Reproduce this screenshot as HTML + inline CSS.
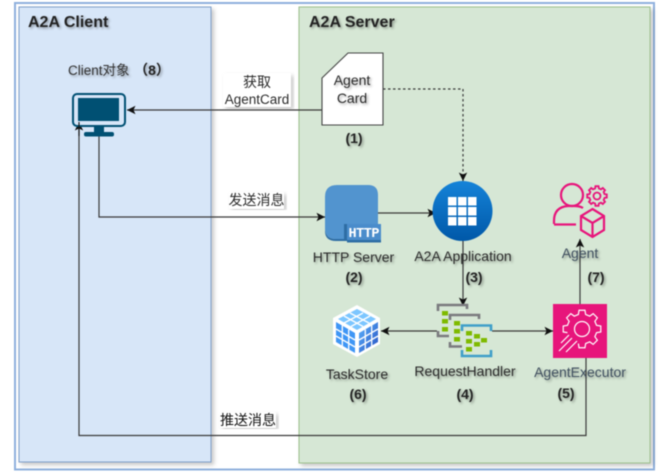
<!DOCTYPE html>
<html><head><meta charset="utf-8">
<style>
html,body{margin:0;padding:0;background:#fff;width:664px;height:473px;overflow:hidden}
svg{display:block;filter:blur(.4px)}
text{font-family:"Liberation Sans","Noto Sans CJK SC",sans-serif;fill:#222}
.t{font-size:14px;text-anchor:middle;fill:#2b2b2b}
.b{font-size:14px;font-weight:bold;text-anchor:middle;fill:#222}
.s{filter:url(#ts)}
.l{fill:none;stroke:#3a3a3a;stroke-width:1.2}
</style></head><body>
<svg width="664" height="473" viewBox="0 0 664 473" xmlns="http://www.w3.org/2000/svg">
<defs>
<filter id="ts" x="-20%" y="-30%" width="150%" height="170%"><feDropShadow dx="1.5" dy="1.5" stdDeviation="1.3" flood-color="#000" flood-opacity=".35"/></filter>
<filter id="bs" x="-5%" y="-5%" width="110%" height="110%"><feDropShadow dx="2.5" dy="2.5" stdDeviation="2" flood-color="#000" flood-opacity=".22"/></filter>
<linearGradient id="cg" x1="0" y1="0" x2="0" y2="1"><stop offset="0" stop-color="#1583d8"/><stop offset="1" stop-color="#0058a8"/></linearGradient>
<linearGradient id="cube" x1="0" y1="0" x2="1" y2="1"><stop offset="0" stop-color="#5db5ff"/><stop offset="1" stop-color="#2650c0"/></linearGradient>
<marker id="a" markerWidth="10" markerHeight="10" refX="8.500" refY="5" orient="auto" markerUnits="userSpaceOnUse"><path d="M0 .8L8.500 5 0 9.200 2 5z" fill="#111"/></marker>
</defs>

<rect x="15" y="3" width="639" height="466.5" fill="#fff" stroke="#8fb0dc" stroke-width="2"/>
<rect x="19" y="7" width="192" height="455" fill="#d7e6f8" stroke="#7f9fc9" filter="url(#bs)"/>
<rect x="299" y="7" width="351" height="456" fill="#d6e7d5" stroke="#9cc08c" filter="url(#bs)"/>

<text x="28" y="27" font-size="16" font-weight="bold" class="s">A2A Client</text>
<text x="309" y="27" font-size="16" font-weight="bold" class="s">A2A Server</text>
<text x="68" y="75" font-size="13.500" class="s" style="fill:#333">Client对象</text>
<text x="152" y="75" class="b s">（8）</text>

<!-- connectors -->
<path class="l" d="M322 110H127" marker-end="url(#a)"/>
<path class="l" d="M99 136V217H325" marker-end="url(#a)"/>
<path class="l" d="M586 358V435.5H79V122" marker-end="url(#a)"/>
<path class="l" d="M383 89H463V181" stroke-dasharray="2.5 2.5" marker-end="url(#a)"/>
<path class="l" d="M378 213H436" marker-end="url(#a)"/>
<path class="l" d="M463 241V306" marker-end="url(#a)"/>
<path class="l" d="M437 331H381" marker-end="url(#a)"/>
<path class="l" d="M492 331H553" marker-end="url(#a)"/>
<path class="l" d="M580 304V239" marker-end="url(#a)"/>

<!-- edge labels -->
<rect x="223" y="73" width="68" height="34" fill="#fff" filter="url(#bs)"/>
<text x="257" y="87" class="t">获取</text>
<text x="257" y="104" class="t" font-size="13.500" style="font-size:13.500px">AgentCard</text>
<rect x="229" y="192" width="55" height="17" fill="#fff" filter="url(#bs)"/>
<text x="256.500" y="205" class="t">发送消息</text>
<rect x="220" y="412" width="56" height="16" fill="#fff" filter="url(#bs)"/>
<text x="248" y="425" class="t" style="fill:#111">推送消息</text>

<!-- monitor -->
<rect x="73" y="94" width="52" height="32" rx="4" fill="#d7e6f8" stroke="#005073" stroke-width="2"/>
<rect x="78" y="98" width="41" height="23" fill="#005073"/>
<rect x="94" y="127" width="10" height="6" fill="#005073"/>
<rect x="84" y="132" width="30" height="4.500" rx="2" fill="#005073"/>
<path d="M79 122V136" stroke="#111" stroke-width="1.100"/>

<!-- agent card -->
<path d="M322 78L348 53H383V125H322Z" fill="#fff" stroke="#444" stroke-width="1.100"/>
<text x="352" y="85" class="t s">Agent</text>
<text x="352" y="103" class="t s">Card</text>
<text x="354" y="143" class="b s">(1)</text>

<!-- HTTP -->
<path d="M337 185H368Q378 185 378 195V224H345V239H336Q325 239 325 228V197Q325 185 337 185Z" fill="#5294cf"/>
<path d="M325 228Q325 239 336 239H345V241H336Q325 241 325 231Z" fill="#2e6da4"/>
<rect x="347" y="224" width="34" height="18" fill="#4a8ccb"/>
<rect x="344" y="224" width="3" height="17" fill="#2e6da4"/>
<rect x="347" y="240" width="34" height="2.500" fill="#2e6da4"/>
<text x="364" y="237" font-size="13.500" text-anchor="middle" font-weight="bold" style="fill:#fff;font-family:'Liberation Mono',monospace" textLength="31">HTTP</text>
<text x="353.500" y="262" class="t s">HTTP Server</text>
<text x="354" y="282" class="b s">(2)</text>

<!-- A2A app -->
<circle cx="462.500" cy="211" r="30" fill="url(#cg)"/>
<g fill="#fff">
<rect x="448" y="197" width="8.500" height="8.500"/><rect x="458" y="197" width="8.500" height="8.500"/><rect x="468" y="197" width="8.500" height="8.500"/>
<rect x="448" y="207" width="8.500" height="8.500"/><rect x="458" y="207" width="8.500" height="8.500"/><rect x="468" y="207" width="8.500" height="8.500"/>
<rect x="448" y="217" width="8.500" height="8.500"/><rect x="458" y="217" width="8.500" height="8.500"/><rect x="468" y="217" width="8.500" height="8.500"/>
</g>
<text x="463" y="261" class="t s">A2A Application</text>
<text x="474" y="282" class="b s">(3)</text>

<!-- Agent icon -->
<g fill="none" stroke="#e7157b" stroke-width="2.200">
<circle cx="572" cy="195" r="11"/>
<path d="M554 224V221Q554 207 568 206H574Q580 206 583 208M554 224.500H576"/>
<path d="M592.500 209L604 216V230L592.500 237 581 230V216ZM581 216L592.500 223 604 216M592.500 223V237"/>
<circle cx="597" cy="196" r="3.500" stroke-width="1.800"/>
<path transform="translate(597 196) scale(.52)" stroke-width="3.600" d="M14.55 -3.63L18.77 -2.97 18.77 2.97 14.55 3.63 12.86 7.73 15.37 11.17 11.17 15.37 7.73 12.86 3.63 14.55 2.97 18.77 -2.97 18.77 -3.63 14.55 -7.73 12.86 -11.17 15.37 -15.37 11.17 -12.86 7.73 -14.55 3.63 -18.77 2.97 -18.77 -2.97 -14.55 -3.63 -12.86 -7.73 -15.37 -11.17 -11.17 -15.37 -7.73 -12.86 -3.63 -14.55 -2.97 -18.77 2.97 -18.77 3.63 -14.55 7.73 -12.86 11.17 -15.37 15.37 -11.17 12.86 -7.73Z"/>
</g>
<text x="580" y="258" class="t s" style="fill:#3f4f5f">Agent</text>
<text x="596" y="282" class="b s">(7)</text>

<!-- RequestHandler -->
<g fill="none" stroke-width="2.600">
<path d="M438 311V305H467V309M438 331V336H449" stroke="#7a7a7e"/>
<path d="M450 320V315H479V319M450 342V346.500H462" stroke="#7a7a7e"/>
<path d="M462 331V325.500H491V331M462 350V356H491V350" stroke="#3f9fc9"/>
</g>
<g fill="#7fba00">
<rect x="442" y="311" width="6" height="4.500"/><rect x="442" y="319" width="6" height="4.500"/><rect x="442" y="327" width="6" height="4.500"/>
<rect x="454" y="321" width="6" height="4.500"/><rect x="454" y="329" width="6" height="4.500"/><rect x="454" y="337" width="6" height="4.500"/>
<rect x="466" y="331" width="6" height="4.500"/><rect x="466" y="339" width="6" height="4.500"/><rect x="466" y="347" width="6" height="4.500"/>
<rect x="474" y="334" width="6" height="4.500"/><rect x="474" y="342" width="6" height="4.500"/><rect x="481" y="338" width="6" height="4.500"/>
</g>
<text x="465" y="376" class="t s">RequestHandler</text>
<text x="465" y="399" class="b s">(4)</text>

<!-- AgentExecutor -->
<rect x="553" y="304" width="54" height="54" fill="#e7157b"/>
<g fill="none" stroke="#fff" stroke-width="1.200">
<circle cx="582" cy="329" r="7.500"/>
<path transform="translate(582 329)" d="M-14.55 3.63L-18.77 2.97 -18.77 -2.97 -14.55 -3.63 -12.86 -7.73 -15.37 -11.17 -11.17 -15.37 -7.73 -12.86 -3.63 -14.55 -2.97 -18.77 2.97 -18.77 3.63 -14.55 7.73 -12.86 11.17 -15.37 15.37 -11.17 12.86 -7.73 14.55 -3.63 18.77 -2.97 18.77 2.97 14.55 3.63 12.86 7.73 15.37 11.17 11.17 15.37 7.73 12.86 3.63 14.55 2.97 18.77 -2.97 18.77 -3.63 14.55"/>
<path d="M559 351L572 338M566 352L577 341M561 343L569 335"/>
</g>
<path d="M586 358V372" stroke="#3a3a3a" stroke-width="1"/>
<text x="580" y="377" class="t s" style="fill:#3f4f5f">AgentExecutor</text>
<text x="566" y="398" class="b s">(5)</text>

<!-- TaskStore -->
<path d="M357 305L380 318V344L357 357 333 344V318Z" fill="#fff"/>
<path d="M357 309L376 319 357 330 338 319Z" fill="#7cc6ff"/>
<path d="M336 322L355 333V353L336 342Z" fill="#3f96f5"/>
<path d="M378 322L359 333V353L378 342Z" fill="url(#cube)"/>
<g stroke="#fff" stroke-width="1.300" fill="none">
<path d="M342.300 325.500V346M348.700 329.500V350M336 329L355 340M336 336L355 347"/>
<path d="M371.700 325.500V346M365.300 329.500V350M378 329L359 340M378 336L359 347"/>
<path d="M350 313L369 323M344 316L363 326.500M363 313L344 323M370 316L351 326.500"/>
</g>
<text x="357" y="379" class="t s">TaskStore</text>
<text x="358" y="399" class="b s">(6)</text>
</svg>
</body></html>
